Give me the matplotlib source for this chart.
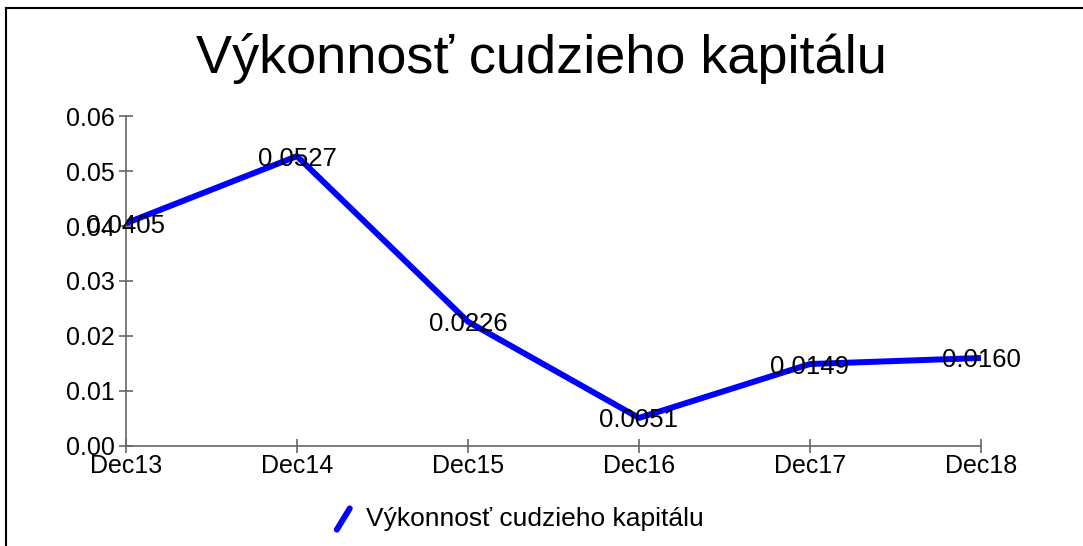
import matplotlib.pyplot as plt
from matplotlib.legend_handler import HandlerLine2D
from matplotlib.lines import Line2D

plt.rcParams['font.family'] = ['Liberation Sans', 'DejaVu Sans']

title = 'Výkonnosť cudzieho kapitálu'
periods = ['Dec13', 'Dec14', 'Dec15', 'Dec16', 'Dec17', 'Dec18']
values = [0.0405, 0.0527, 0.0226, 0.0051, 0.0149, 0.0160]
yticks = [0.00, 0.01, 0.02, 0.03, 0.04, 0.05, 0.06]


class SlashHandler(HandlerLine2D):
    # legend key drawn as a short slanted stroke
    def create_artists(self, legend, orig_handle, xdescent, ydescent,
                       width, height, fontsize, trans):
        cx = width / 2 - xdescent
        line = Line2D([cx - height * 0.35, cx + height * 0.35],
                      [-ydescent - height * 0.2, -ydescent + height * 0.95])
        self.update_prop(line, orig_handle, legend)
        line.set_solid_capstyle('round')
        line.set_transform(trans)
        return [line]


fig = plt.figure(figsize=(10.83, 5.46), dpi=100)
ax = fig.add_axes([0.1163, 0.1832, 0.7895, 0.6043])

x = list(range(len(periods)))
line, = ax.plot(x, values, color='#0000ff', linewidth=4.3,
                solid_joinstyle='round', solid_capstyle='butt', label=title)

for xi, v in zip(x, values):
    ax.text(xi, v, f'{v:.4f}', ha='center', va='center_baseline',
            fontsize=18.5, color='black')

ax.set_xlim(0, len(periods) - 1)
ax.set_ylim(0, 0.06)
ax.set_xticks(x)
ax.set_xticklabels(periods)
ax.set_yticks(yticks)
ax.set_yticklabels([f'{t:.2f}' for t in yticks])

for side in ['top', 'right']:
    ax.spines[side].set_visible(False)
for side in ['left', 'bottom']:
    ax.spines[side].set_color('#666666')
    ax.spines[side].set_linewidth(1.2)

ax.tick_params(axis='both', direction='inout', length=10, width=1.2,
               color='#666666', labelsize=18, labelcolor='black')
ax.tick_params(axis='y', pad=3)
ax.tick_params(axis='x', pad=1)

fig.text(0.5, 0.8663, title, ha='center', va='baseline', fontsize=39)

fig.legend(handles=[line], labels=[title], loc='center',
           bbox_to_anchor=(0.479, 0.0495), frameon=False, fontsize=19,
           handler_map={Line2D: SlashHandler()}, handlelength=0.75,
           handletextpad=0.5)

# frame only on the left and top edges, as in the source image
fig.add_artist(Line2D([0.0055, 0.0055], [0, 0.985], transform=fig.transFigure,
                      color='black', linewidth=1.5))
fig.add_artist(Line2D([0.0055, 1], [0.985, 0.985], transform=fig.transFigure,
                      color='black', linewidth=1.5))

fig.savefig('out.png', dpi=100)
